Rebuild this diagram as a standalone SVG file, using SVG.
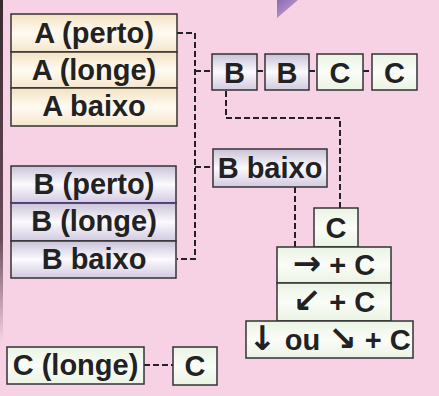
<svg xmlns="http://www.w3.org/2000/svg" width="439" height="396" viewBox="0 0 439 396">
<defs>
<linearGradient id="gA" x1="0" y1="0" x2="0" y2="1">
<stop offset="0" stop-color="#f4e2c2"/><stop offset="0.5" stop-color="#fffbf2"/><stop offset="1" stop-color="#f5e6cc"/>
</linearGradient>
<linearGradient id="gB" x1="0" y1="0" x2="0" y2="1">
<stop offset="0" stop-color="#c9c2d8"/><stop offset="0.5" stop-color="#fbfafd"/><stop offset="1" stop-color="#d2c9e0"/>
</linearGradient>
<linearGradient id="gC" x1="0" y1="0" x2="0" y2="1">
<stop offset="0" stop-color="#e9f3e3"/><stop offset="0.5" stop-color="#fbfdf8"/><stop offset="1" stop-color="#eaf3e4"/>
</linearGradient>
<linearGradient id="gT" x1="0" y1="0" x2="1" y2="1">
<stop offset="0" stop-color="#8e6bb0"/><stop offset="1" stop-color="#c7a9d9"/>
</linearGradient>
<linearGradient id="gL" x1="0" y1="0" x2="0" y2="1">
<stop offset="0" stop-color="#3a2a30"/><stop offset="0.7" stop-color="#6a4a58"/><stop offset="1" stop-color="#f5cfe2"/>
</linearGradient>
</defs>
<style>
.a{fill:url(#gA);stroke:#333;stroke-width:1.5}
.b{fill:url(#gB);stroke:#333;stroke-width:1.5}
.c{fill:url(#gC);stroke:#333;stroke-width:1.5}
text{font-family:"Liberation Sans","DejaVu Sans",sans-serif;font-weight:bold;font-size:29px;fill:#222;text-anchor:middle}
.ar{font-family:"DejaVu Sans","Liberation Sans",sans-serif;font-size:34px}
.d{fill:none;stroke:#222;stroke-width:2;stroke-dasharray:6 3}
</style>
<rect width="439" height="396" fill="#f6d2e4"/>
<rect x="0" y="0" width="3" height="340" fill="url(#gL)"/>
<polygon points="277,0 298,0 277,18" fill="url(#gT)"/>

<g id="connectors">
<polyline class="d" points="177,33 195,33 195,259 177,259"/>
<line class="d" x1="195" y1="71" x2="212" y2="71"/>
<line class="d" x1="195" y1="167" x2="213" y2="167"/>
<line class="d" x1="257" y1="71" x2="265" y2="71" stroke-dasharray="none"/>
<line class="d" x1="309" y1="71" x2="317" y2="71" stroke-dasharray="none"/>
<line class="d" x1="363" y1="71" x2="372" y2="71" stroke-dasharray="none"/>
<polyline class="d" points="226,91 226,118 340,118 340,208"/>
<line class="d" x1="295" y1="187" x2="295" y2="247"/>
<line class="d" x1="144" y1="365" x2="173" y2="365"/>
</g>

<g id="A-perto"><rect class="a" x="11" y="14" width="166" height="38"/><text x="94" y="43">A (perto)</text></g>
<g id="A-longe"><rect class="a" x="11" y="52" width="166" height="36"/><text x="94" y="80">A (longe)</text></g>
<g id="A-baixo"><rect class="a" x="11" y="88" width="166" height="38"/><text x="94" y="116">A baixo</text></g>

<g id="B-perto"><rect class="b" x="11" y="166" width="165" height="37"/><text x="94" y="194">B (perto)</text></g>
<g id="B-longe"><rect class="b" x="11" y="203" width="165" height="38"/><text x="94" y="231">B (longe)</text></g>
<g id="B-baixo"><rect class="b" x="11" y="241" width="165" height="37"/><text x="94" y="269">B baixo</text></g>
<line x1="11" y1="203" x2="176" y2="203" stroke="#5a3f8a" stroke-width="1.5"/>

<g id="chain-B1"><rect class="b" x="212" y="54" width="45" height="36"/><text x="234.5" y="83">B</text></g>
<g id="chain-B2"><rect class="b" x="265" y="54" width="44" height="36"/><text x="287" y="83">B</text></g>
<g id="chain-C1"><rect class="c" x="317" y="54" width="46" height="36"/><text x="340" y="83">C</text></g>
<g id="chain-C2"><rect class="c" x="372" y="54" width="45" height="36"/><text x="394.5" y="83">C</text></g>

<g id="B-baixo-node"><rect class="b" x="213" y="149" width="114" height="38"/><text x="270" y="178">B baixo</text></g>

<g id="C-top"><rect class="c" x="314" y="208" width="44" height="39"/><text x="336" y="238">C</text></g>
<g id="right-C"><rect class="c" x="277" y="247" width="114" height="36"/><text x="334" y="275"><tspan class="ar">→</tspan> + C</text></g>
<g id="downleft-C"><rect class="c" x="277" y="283" width="114" height="38"/><text x="334" y="312"><tspan class="ar">↙</tspan> + C</text></g>
<g id="down-C"><rect class="c" x="246" y="321" width="167" height="37"/><text x="329.5" y="350"><tspan class="ar">↓</tspan> ou <tspan class="ar">↘</tspan> + C</text></g>

<g id="C-longe"><rect class="c" x="7" y="347" width="137" height="37"/><text x="75.5" y="375">C (longe)</text></g>
<g id="C-small"><rect class="c" x="173" y="347" width="44" height="38"/><text x="195" y="376">C</text></g>
</svg>
